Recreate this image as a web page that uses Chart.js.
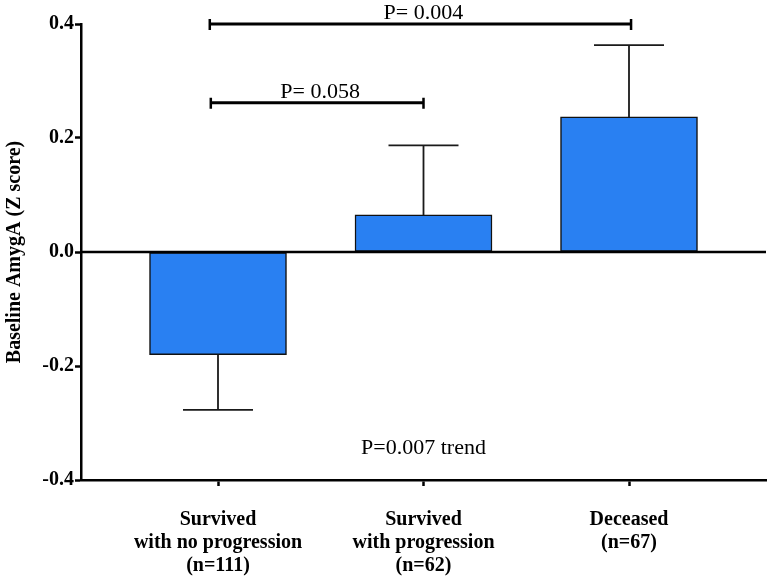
<!DOCTYPE html>
<html>
<head>
<meta charset="utf-8">
<script src="https://cdn.jsdelivr.net/npm/chart.js@4.4.1/dist/chart.umd.min.js"></script>
<style>
  html, body { margin: 0; padding: 0; background: #ffffff; }
  #wrap { width: 772px; height: 577px; }
</style>
</head>
<body>
<div id="wrap"><canvas id="c" width="772" height="577"></canvas></div>
<script>
// ---- data ----
const categories = [
  ['Survived', 'with no progression', '(n=111)'],
  ['Survived', 'with progression', '(n=62)'],
  ['Deceased', '(n=67)']
];
const groupPositions = [1, 2, 3];
const means = [-0.18, 0.065, 0.237];
const sems = [0.097, 0.122, 0.126];
const yTicks = [-0.4, -0.2, 0.0, 0.2, 0.4];

// significance brackets (data coordinates)
const bracketStart = [0.96, 0.965];
const bracketEnd = [3.01, 2.0];
const bracketLevel = [0.4, 0.262];
const bracketLabels = ['P= 0.004', 'P= 0.058'];

const trendLabel = 'P=0.007 trend';
const trendX = 2;
const trendY = -0.355;

const yTitle = 'Baseline AmygA (Z score)';

// ---- chart ----
const SERIF = "'Liberation Serif', 'Times New Roman', serif";
Chart.defaults.font.family = SERIF;
Chart.defaults.color = '#000000';

const barPoints = groupPositions.map((x, i) => ({ x: x, y: means[i] }));

const annotations = {
  id: 'annotations',
  afterDatasetsDraw(chart) {
    const { ctx, scales: { x, y }, chartArea } = chart;
    ctx.save();
    // zero line
    const y0 = y.getPixelForValue(0);
    ctx.strokeStyle = '#000';
    ctx.lineWidth = 2.5;
    ctx.beginPath();
    ctx.moveTo(chartArea.left, y0);
    ctx.lineTo(chartArea.right, y0);
    ctx.stroke();

    // error bars (one-sided, away from zero)
    ctx.lineWidth = 1.8;
    ctx.strokeStyle = '#1a1a1a';
    const capHalf = 35;
    groupPositions.forEach((gx, i) => {
      const px = x.getPixelForValue(gx);
      const m = means[i];
      const end = m >= 0 ? m + sems[i] : m - sems[i];
      const pm = y.getPixelForValue(m);
      const pe = y.getPixelForValue(end);
      ctx.beginPath();
      ctx.moveTo(px, pm);
      ctx.lineTo(px, pe);
      ctx.moveTo(px - capHalf, pe);
      ctx.lineTo(px + capHalf, pe);
      ctx.stroke();
    });
    ctx.restore();
  },
  afterDraw(chart) {
    const { ctx, scales: { x, y } } = chart;
    ctx.save();
    // brackets
    ctx.strokeStyle = '#000';
    ctx.fillStyle = '#000';
    ctx.font = '22px ' + SERIF;
    ctx.textAlign = 'center';
    ctx.textBaseline = 'alphabetic';
    bracketLabels.forEach((lab, i) => {
      const x1 = x.getPixelForValue(bracketStart[i]);
      const x2 = x.getPixelForValue(bracketEnd[i]);
      const py = y.getPixelForValue(bracketLevel[i]);
      ctx.lineWidth = 3;
      ctx.beginPath();
      ctx.moveTo(x1, py);
      ctx.lineTo(x2, py);
      ctx.stroke();
      ctx.lineWidth = 2.5;
      ctx.beginPath();
      ctx.moveTo(x1, py - 5);
      ctx.lineTo(x1, py + 6);
      ctx.moveTo(x2, py - 5);
      ctx.lineTo(x2, py + 6);
      ctx.stroke();
      ctx.fillText(lab, (x1 + x2) / 2 + 3, py - 5);
    });
    // trend label
    ctx.fillText(trendLabel, x.getPixelForValue(trendX), y.getPixelForValue(trendY));
    ctx.restore();
  }
};

new Chart(document.getElementById('c'), {
  type: 'bar',
  data: {
    datasets: [{
      data: barPoints,
      backgroundColor: 'rgb(41,128,242)',
      borderColor: '#111111',
      borderWidth: 1.5,
      borderSkipped: false,
      barThickness: 137
    }]
  },
  options: {
    responsive: false,
    animation: false,
    devicePixelRatio: 1,
    layout: { padding: { left: 0, right: 6, top: 24, bottom: 0 } },
    plugins: {
      legend: { display: false },
      tooltip: { enabled: false }
    },
    scales: {
      x: {
        type: 'linear',
        min: 1 / 3,
        max: 11 / 3,
        offset: false,
        afterBuildTicks(scale) {
          scale.ticks = groupPositions.map(v => ({ value: v }));
        },
        afterFit(scale) { scale.height = 97; },
        grid: {
          offset: false,
          drawOnChartArea: false,
          drawTicks: true,
          tickLength: 6,
          tickWidth: 2.5,
          tickColor: '#000'
        },
        border: { display: true, color: '#000', width: 2.5 },
        ticks: {
          autoSkip: false,
          maxRotation: 0,
          padding: 22,
          font: { size: 20, weight: 'bold', lineHeight: 1.15 },
          color: '#000',
          callback(value) {
            const i = groupPositions.indexOf(value);
            return i >= 0 ? categories[i] : '';
          }
        }
      },
      y: {
        min: -0.4,
        max: 0.4,
        afterBuildTicks(scale) {
          scale.ticks = yTicks.map(v => ({ value: v }));
        },
        afterFit(scale) { scale.width = 81; },
        grid: {
          drawOnChartArea: false,
          drawTicks: true,
          tickLength: 6,
          tickWidth: 2.5,
          tickColor: '#000'
        },
        border: { display: true, color: '#000', width: 2.5 },
        ticks: {
          padding: 1,
          font: { size: 20, weight: 'bold' },
          color: '#000',
          callback(value) {
            return Math.abs(value) < 1e-9 ? '0.0' : Number(value).toFixed(1);
          }
        },
        title: {
          display: true,
          text: yTitle,
          font: { size: 20, weight: 'bold' },
          color: '#000',
          padding: { top: 3, bottom: 0 }
        }
      }
    }
  },
  plugins: [annotations]
});
</script>
</body>
</html>
